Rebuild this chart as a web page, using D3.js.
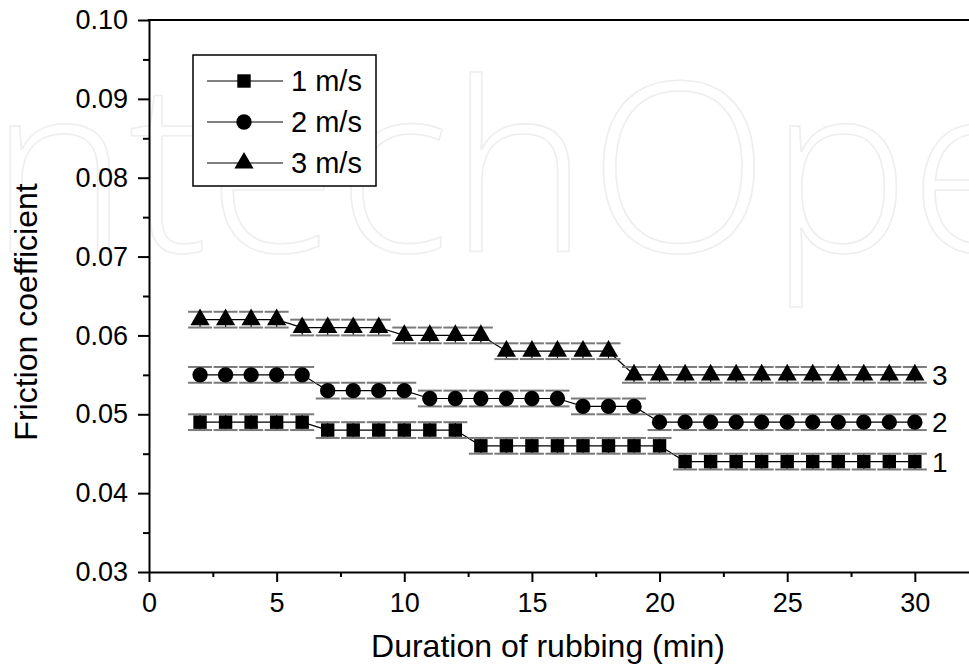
<!DOCTYPE html>
<html>
<head>
<meta charset="utf-8">
<script src="https://cdn.jsdelivr.net/npm/d3@7/dist/d3.min.js"></script>
<style>
  html, body { margin: 0; padding: 0; background: #fff; }
  svg { display: block; font-family: "Liberation Sans", Arial, sans-serif; }
</style>
</head>
<body>
<svg id="chart" width="969" height="666"></svg>
<script>
// ---- data ----
const durations = [2,3,4,5,6,7,8,9,10,11,12,13,14,15,16,17,18,19,20,21,22,23,24,25,26,27,28,29,30];
const speed1 = [0.049,0.049,0.049,0.049,0.049,0.048,0.048,0.048,0.048,0.048,0.048,0.046,0.046,0.046,0.046,0.046,0.046,0.046,0.046,0.044,0.044,0.044,0.044,0.044,0.044,0.044,0.044,0.044,0.044];
const speed2 = [0.055,0.055,0.055,0.055,0.055,0.053,0.053,0.053,0.053,0.052,0.052,0.052,0.052,0.052,0.052,0.051,0.051,0.051,0.049,0.049,0.049,0.049,0.049,0.049,0.049,0.049,0.049,0.049,0.049];
const speed3 = [0.062,0.062,0.062,0.062,0.061,0.061,0.061,0.061,0.060,0.060,0.060,0.060,0.058,0.058,0.058,0.058,0.058,0.055,0.055,0.055,0.055,0.055,0.055,0.055,0.055,0.055,0.055,0.055,0.055];
const err1 = [0.001,0.001,0.001,0.001,0.001,0.001,0.001,0.001,0.001,0.001,0.001,0.001,0.001,0.001,0.001,0.001,0.001,0.001,0.001,0.001,0.001,0.001,0.001,0.001,0.001,0.001,0.001,0.001,0.001];
const err2 = [0.001,0.001,0.001,0.001,0.001,0.001,0.001,0.001,0.001,0.001,0.001,0.001,0.001,0.001,0.001,0.001,0.001,0.001,0.001,0.001,0.001,0.001,0.001,0.001,0.001,0.001,0.001,0.001,0.001];
const err3 = [0.001,0.001,0.001,0.001,0.001,0.001,0.001,0.001,0.001,0.001,0.001,0.001,0.001,0.001,0.001,0.001,0.001,0.001,0.001,0.001,0.001,0.001,0.001,0.001,0.001,0.001,0.001,0.001,0.001];
const seriesNames = ["1 m/s", "2 m/s", "3 m/s"];
const endLabels = ["1", "2", "3"];
const xTicks = [0,5,10,15,20,25,30];
const xMinorTicks = [2.5,7.5,12.5,17.5,22.5,27.5];
const yTicks = [0.03,0.04,0.05,0.06,0.07,0.08,0.09,0.10];
const yMinorTicks = [0.035,0.045,0.055,0.065,0.075,0.085,0.095];
const xTitle = "Duration of rubbing (min)";
const yTitle = "Friction coefficient";
const watermark = "IntechOpen";

(function () {
const seriesValues = [speed1, speed2, speed3];
const seriesErrors = [err1, err2, err3];
const symbols = [d3.symbolSquare, d3.symbolCircle, d3.symbolTriangle];
const symbolSizes = [180, 185, 160];

const svg = d3.select("#chart");
const mL = 149, mR = 971, mT = 20, mB = 572;
const x = d3.scaleLinear().domain([0, 32.2]).range([mL, mR]);
const y = d3.scaleLinear().domain([0.03, 0.10]).range([mB, mT]);

// faint background watermark
svg.append("text")
  .attr("x", -70).attr("y", 252)
  .attr("font-family", "'Open Sans', 'DejaVu Sans', sans-serif")
  .attr("font-weight", 300)
  .attr("font-size", 236)
  .attr("fill", "none")
  .attr("stroke", "#eeeeee")
  .attr("stroke-width", 1.6)
  .text(watermark);

// axes
const fontTick = 27;
const xAxis = d3.axisBottom(x).tickValues(xTicks).tickSize(10).tickPadding(11).tickFormat(d3.format("d"));
const gx = svg.append("g").attr("transform", `translate(0,${mB})`).call(xAxis);
const xMinor = d3.axisBottom(x).tickValues(xMinorTicks).tickSize(5).tickFormat("");
const gxm = svg.append("g").attr("transform", `translate(0,${mB})`).call(xMinor);
const yAxis = d3.axisLeft(y).tickValues(yTicks).tickSize(11).tickPadding(10).tickFormat(d3.format(".2f"));
const gy = svg.append("g").attr("transform", `translate(${mL},0)`).call(yAxis);
const yMinor = d3.axisLeft(y).tickValues(yMinorTicks).tickSize(6).tickFormat("");
const gym = svg.append("g").attr("transform", `translate(${mL},0)`).call(yMinor);
[gx, gxm, gy, gym].forEach(g => {
  g.select(".domain").attr("stroke", "#000").attr("stroke-width", 2);
  g.selectAll(".tick line").attr("stroke", "#000").attr("stroke-width", 2);
  g.selectAll(".tick text").attr("font-size", fontTick).attr("fill", "#000")
    .attr("font-family", "'Liberation Sans', Arial, sans-serif");
});
gx.select(".domain").attr("d", `M${mL},0.5H${mR}`);
gy.select(".domain").attr("d", `M0.5,${mB}V${mT}`);
gxm.select(".domain").remove();
gym.select(".domain").remove();
// top frame line
svg.append("line").attr("x1", mL - 1).attr("x2", mR).attr("y1", mT).attr("y2", mT)
  .attr("stroke", "#000").attr("stroke-width", 2);

// titles
svg.append("text").attr("x", 548).attr("y", 657)
  .attr("text-anchor", "middle").attr("font-size", 32).text(xTitle);
svg.append("text").attr("transform", `translate(37,312) rotate(-90)`)
  .attr("text-anchor", "middle").attr("font-size", 32).text(yTitle);

// series
const line = d3.line().x((d, i) => x(durations[i])).y(d => y(d));
seriesValues.forEach((vals, s) => {
  const errs = seriesErrors[s];
  const g = svg.append("g");
  g.append("path").datum(vals).attr("d", line)
    .attr("fill", "none").attr("stroke", "#000").attr("stroke-width", 1.2);
  vals.forEach((v, i) => {
    const cx = x(durations[i]);
    g.append("line").attr("x1", cx).attr("x2", cx)
      .attr("y1", y(v + errs[i])).attr("y2", y(v - errs[i]))
      .attr("stroke", "#000").attr("stroke-width", 1.2);
    [v + errs[i], v - errs[i]].forEach(e => {
      g.append("line").attr("x1", cx - 12).attr("x2", cx + 12)
        .attr("y1", y(e)).attr("y2", y(e))
        .attr("stroke", "#7a7a7a").attr("stroke-width", 2);
    });
  });
  g.selectAll("path.m").data(vals).join("path").attr("class", "m")
    .attr("transform", (d, i) => `translate(${x(durations[i])},${y(d)})`)
    .attr("d", d3.symbol().type(symbols[s]).size(symbolSizes[s]))
    .attr("fill", "#000");
  const last = vals[vals.length - 1];
  svg.append("text").attr("x", 932).attr("y", y(last) + 10)
    .attr("font-size", 28).text(endLabels[s]);
});

// legend
const lg = svg.append("g");
lg.append("rect").attr("x", 193).attr("y", 55).attr("width", 183).attr("height", 131)
  .attr("fill", "#fff").attr("stroke", "#000").attr("stroke-width", 1.5);
seriesNames.forEach((name, s) => {
  const ly = 81 + s * 41;
  lg.append("line").attr("x1", 207).attr("x2", 283).attr("y1", ly).attr("y2", ly)
    .attr("stroke", "#000").attr("stroke-width", 1);
  lg.append("path").attr("transform", `translate(244,${ly})`)
    .attr("d", d3.symbol().type(symbols[s]).size(symbolSizes[s])).attr("fill", "#000");
  lg.append("text").attr("x", 291).attr("y", ly + 10).attr("font-size", 29).text(name);
});
})();
</script>
</body>
</html>
